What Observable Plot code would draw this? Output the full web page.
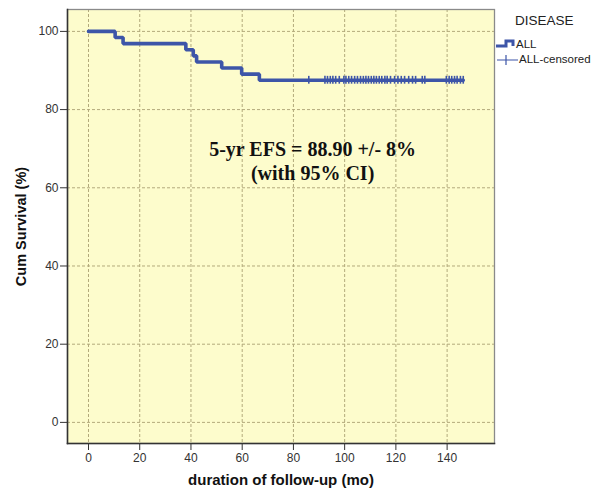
<!DOCTYPE html>
<html><head><meta charset="utf-8">
<script src="https://cdn.jsdelivr.net/npm/d3@7"></script>
<script src="https://cdn.jsdelivr.net/npm/@observablehq/plot@0.6"></script>
<style>
html,body{margin:0;padding:0;background:#fff;}
#chart{position:relative;width:592px;height:493px;}
#chart svg{font-family:"Liberation Sans",Arial,sans-serif;}
#chart g[aria-label="x-axis label"] text{font-weight:bold;font-size:15px;fill:#111;}
#chart g[aria-label="y-axis label"] text{font-weight:bold;font-size:14.5px;fill:#111;}
#legend{position:absolute;left:0;top:0;width:592px;height:80px;pointer-events:none;font-family:"Liberation Sans",Arial,sans-serif;color:#222;}
#legend .title{position:absolute;left:515px;top:13px;font-size:13.5px;}
#legend .item{position:absolute;font-size:11.5px;line-height:14px;}
#legend svg{position:absolute;left:0;top:0;}
</style></head><body><div id="chart"></div>
<script>
// ---- data ----
const xTicks = [0, 20, 40, 60, 80, 100, 120, 140];
const yTicks = [0, 20, 40, 60, 80, 100];
const eventTimes = [0, 10.4, 13.5, 38.0, 40.9, 42.2, 52.0, 59.8, 66.7];
const eventSurvival = [100, 98.44, 96.88, 95.31, 93.75, 92.19, 90.63, 89.06, 87.5];
const censoredTimes = [86.0, 92.3, 93.3, 94.4, 95.4, 96.5, 97.9, 99.7, 100.5, 101.6, 102.7, 103.9, 105.0, 106.2, 107.3, 108.3, 109.3, 110.4, 111.4, 112.4, 113.5, 114.5, 115.7, 116.6, 117.9, 119.5, 120.8, 122.1, 123.4, 125.0, 126.5, 127.7, 130.3, 131.3, 139.7, 140.8, 141.8, 142.9, 143.9, 145.2, 146.3];
const censoredSurvival = 87.5;
const legendTitle = "DISEASE";
const legendLabels = ["ALL", "ALL-censored"];
const annotationLines = ["5-yr EFS = 88.90 +/- 8%", "(with 95% CI)"];
const annotationAt = {x: 87.5, y: 67};
const xLabel = "duration of follow-up (mo)";
const yLabel = "Cum Survival (%)";

const blue = "#3d55a8";
const bg = "#fdfccc";
const gridColor = "#b3aa7c";

const curve = eventTimes.map((t, i) => ({t, s: eventSurvival[i]}));
curve.push({t: censoredTimes[censoredTimes.length - 1], s: censoredSurvival});
const censored = censoredTimes.map(t => ({t, s: censoredSurvival}));

const chart = Plot.plot({
  width: 592, height: 493,
  marginLeft: 67, marginRight: 98, marginTop: 9, marginBottom: 50,
  x: {domain: [-8.2, 158.5]},
  y: {domain: [-5.4, 105.6]},
  style: {background: "transparent", overflow: "visible"},
  marks: [
    Plot.frame({fill: bg, stroke: null}),
    Plot.gridX(xTicks, {stroke: gridColor, strokeOpacity: 1, strokeDasharray: "3,2"}),
    Plot.gridY(yTicks, {stroke: gridColor, strokeOpacity: 1, strokeDasharray: "3,2"}),
    Plot.frame({stroke: "#8a8a8a", strokeWidth: 1.3}),
    Plot.frame({anchor: "left", stroke: "#333", strokeWidth: 1.5}),
    Plot.frame({anchor: "bottom", stroke: "#333", strokeWidth: 1.5}),
    Plot.axisX({ticks: xTicks, tickSize: 7, tickPadding: 3, fontSize: 12, color: "#333",
      tickFormat: d => String(d), label: xLabel, labelAnchor: "center", labelOffset: 41, labelArrow: "none"}),
    Plot.axisY({ticks: yTicks, tickSize: 7, tickPadding: 2, fontSize: 12, color: "#333",
      tickFormat: d => String(d), label: yLabel, labelAnchor: "center", labelOffset: 52, labelArrow: "none"}),
    Plot.line(curve, {x: "t", y: "s", curve: "step-after", stroke: blue, strokeWidth: 3.6, strokeLinejoin: "miter"}),
    Plot.ruleX(censored, {x: "t", y1: d => d.s - 1, y2: d => d.s + 1, stroke: blue, strokeWidth: 1.6}),
    Plot.text([annotationLines.join("\n")], {x: () => annotationAt.x, y: () => annotationAt.y, text: d => d,
      fontFamily: "'Liberation Serif','Times New Roman',serif", fontWeight: "bold", fontSize: 20, lineHeight: 1.2, fill: "#111"})
  ]
});
const host = document.getElementById("chart");
host.appendChild(chart);

// legend (outside the plot frame, like the SPSS output)
const lg = document.createElement("div");
lg.id = "legend";
lg.innerHTML = `
<svg width="592" height="80">
  <path d="M496,46H506V41H513V46" fill="none" stroke="${blue}" stroke-width="3"/>
  <path d="M497,60H518M506,55V65" fill="none" stroke="${blue}" stroke-width="1.2"/>
</svg>
<div class="title">${legendTitle}</div>
<div class="item" style="left:516px;top:37px">${legendLabels[0]}</div>
<div class="item" style="left:519px;top:52px">${legendLabels[1]}</div>`;
host.appendChild(lg);
</script>
</body></html>
